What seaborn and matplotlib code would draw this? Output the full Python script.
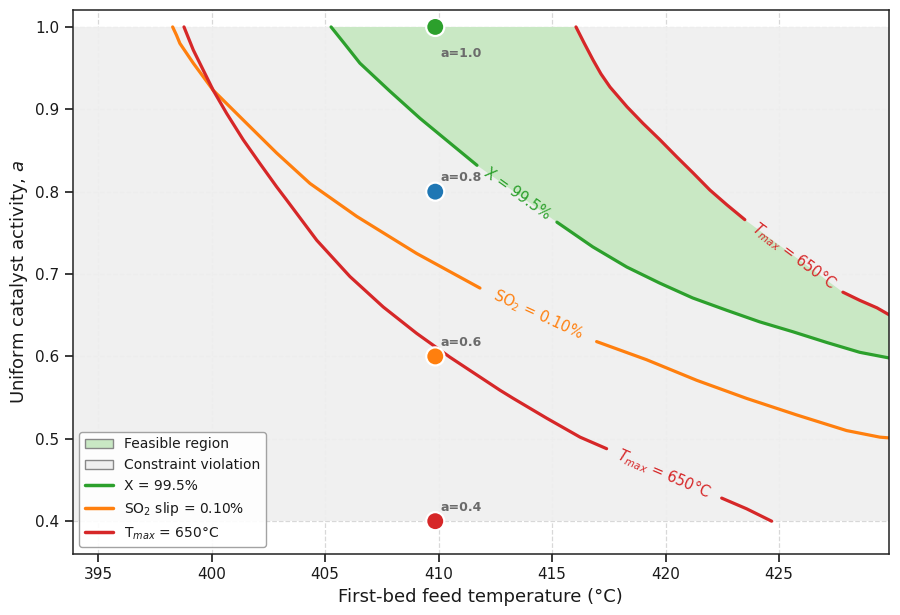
import numpy as np
import matplotlib.pyplot as plt
import seaborn as sns
from matplotlib.patches import Patch
from matplotlib.lines import Line2D

# Constraint boundaries (T in degC, a = activity)
# X = 99.5 % conversion
conv_T = [405.26, 405.87, 406.53, 407.85, 409.18, 410.50, 411.69, 415.21, 416.79,
          418.29, 419.74, 421.19, 422.69, 424.14, 425.60, 427.09, 428.55, 429.87]
conv_a = [1.000, 0.979, 0.956, 0.922, 0.889, 0.859, 0.832, 0.763, 0.733,
          0.7085, 0.689, 0.671, 0.656, 0.642, 0.630, 0.617, 0.605, 0.598]

# SO2 slip = 0.10 %
slip_T = [398.28, 398.45, 398.60, 399.19, 400.07, 401.39, 402.86, 404.33, 406.39,
          409.03, 411.82, 416.96, 419.16, 421.37, 423.57, 425.77, 427.97, 429.44,
          429.88]
slip_a = [1.000, 0.990, 0.980, 0.956, 0.923, 0.887, 0.847, 0.810, 0.770,
          0.725, 0.683, 0.618, 0.596, 0.571, 0.549, 0.529, 0.510, 0.502,
          0.501]

# Tmax = 650 degC, lower branch
tlo_T = [398.78, 399.19, 400.07, 400.66, 401.39, 402.13, 402.86, 403.30, 404.63,
         406.09, 407.56, 409.03, 410.50, 411.82, 412.70, 413.29, 414.76, 416.23,
         417.40, 422.47, 423.57, 424.67]
tlo_a = [1.000, 0.972, 0.923, 0.895, 0.863, 0.834, 0.806, 0.790, 0.741,
         0.697, 0.660, 0.628, 0.599, 0.575, 0.559, 0.549, 0.525, 0.502,
         0.488, 0.428, 0.415, 0.400]

# Tmax = 650 degC, upper branch
thi_T = [416.05, 416.40, 416.80, 417.15, 417.55, 418.30, 419.00, 419.75, 420.50,
         421.20, 421.95, 422.70, 423.49, 427.81, 428.56, 429.31, 429.88]
thi_a = [1.000, 0.981, 0.960, 0.943, 0.927, 0.903, 0.883, 0.863, 0.842,
         0.823, 0.802, 0.784, 0.766, 0.678, 0.668, 0.659, 0.650]

# operating points
pt_T = [409.85, 409.85, 409.85, 409.85]
pt_a = [1.0, 0.8, 0.6, 0.4]
pt_labels = ["a=1.0", "a=0.8", "a=0.6", "a=0.4"]

GREEN, ORANGE, RED, BLUE = "#2ca02c", "#ff7f0e", "#d62728", "#1f77b4"
FEAS = "#c9e8c4"
VIOL = "#efefef"

sns.set_theme(style="ticks")
plt.rcParams['font.family'] = ['DejaVu Sans']

fig, ax = plt.subplots(figsize=(9, 6.15), dpi=100)
fig.subplots_adjust(left=0.0806, right=0.988, top=0.983, bottom=0.099)
ax.set_xlim(393.87, 429.85)
ax.set_ylim(0.36, 1.02)

ax.set_axisbelow(True)
ax.grid(True, ls="--", color="#d8d8d8", lw=0.9)

# regions
ax.axhspan(0.4, 1.0, color=VIOL, alpha=0.92, lw=0, zorder=0.6)
ax.fill(conv_T + thi_T[::-1], conv_a + thi_a[::-1], color=FEAS, lw=0, zorder=0.7)

# curves, with a gap left for the inline label
curves = [
    (conv_T, conv_a, GREEN, 6, "X = 99.5%"),
    (slip_T, slip_a, ORANGE, 10, "SO$_2$ = 0.10%"),
    (tlo_T, tlo_a, RED, 18, "$T_{max}$ = 650°C"),
    (thi_T, thi_a, RED, 12, "$T_{max}$ = 650°C"),
]
for T, a, col, gap, lab in curves:
    T = np.array(T)
    a = np.array(a)
    for sl in (slice(0, gap + 1), slice(gap + 1, None)):
        sns.lineplot(x=T[sl], y=a[sl], sort=False, estimator=None, color=col,
                     lw=2.3, ax=ax, zorder=2)
    p1 = ax.transData.transform((T[gap], a[gap]))
    p2 = ax.transData.transform((T[gap + 1], a[gap + 1]))
    ang = np.degrees(np.arctan2(p2[1] - p1[1], p2[0] - p1[0]))
    ax.text((T[gap] + T[gap + 1]) / 2, (a[gap] + a[gap + 1]) / 2, lab,
            color=col, fontsize=10.5, rotation=ang, rotation_mode="anchor",
            ha="center", va="center", zorder=3)

# operating points
sns.scatterplot(x=pt_T, y=pt_a, hue=pt_labels, palette=[GREEN, BLUE, ORANGE, RED],
                s=170, edgecolor="white", linewidth=1.6, legend=False, ax=ax,
                zorder=4, clip_on=False)
for T, a, lab in zip(pt_T, pt_a, pt_labels):
    dy = -19 if a >= 1.0 else 10
    ax.annotate(lab, (T, a), xytext=(4, dy), textcoords="offset points",
                ha="left", va="center", fontsize=9, fontweight="bold",
                color="#6b6b6b", zorder=5)

ax.set_xticks([395, 400, 405, 410, 415, 420, 425])
ax.set_yticks([0.4, 0.5, 0.6, 0.7, 0.8, 0.9, 1.0])
ax.tick_params(labelsize=11, color="#222222", labelcolor="#1a1a1a")
ax.set_xlabel("First-bed feed temperature (°C)", fontsize=13, color="#1a1a1a")
ax.set_ylabel("Uniform catalyst activity, $a$", fontsize=13, color="#1a1a1a")
for sp in ax.spines.values():
    sp.set_color("#222222")
    sp.set_linewidth(1.1)

handles = [
    Patch(facecolor=FEAS, edgecolor="#888888", label="Feasible region"),
    Patch(facecolor=VIOL, edgecolor="#888888", label="Constraint violation"),
    Line2D([], [], color=GREEN, lw=2.5, label="X = 99.5%"),
    Line2D([], [], color=ORANGE, lw=2.5, label="SO$_2$ slip = 0.10%"),
    Line2D([], [], color=RED, lw=2.5, label="T$_{max}$ = 650°C"),
]
leg = ax.legend(handles=handles, loc="lower left", fontsize=10, frameon=True,
                fancybox=True, edgecolor="#999999", framealpha=0.9,
                labelcolor="#1a1a1a")

fig.savefig("out.png", dpi=100)
